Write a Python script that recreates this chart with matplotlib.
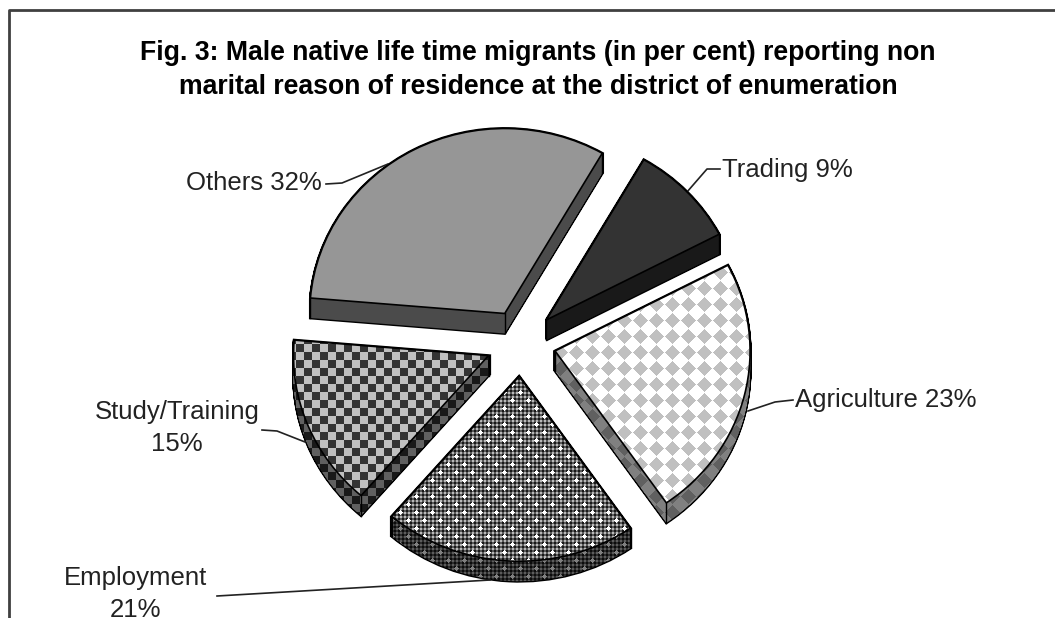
import numpy as np
from matplotlib import pyplot as plt
from matplotlib.path import Path
from matplotlib.patches import PathPatch
from matplotlib.transforms import Affine2D

W, H = 1055, 618
CX, CY = 521, 343
RX, RY = 195, 185
DEPTH = 20

names = ["Trading", "Agriculture", "Employment", "Study/Training", "Others"]
values = [9, 23, 21, 15, 32]
labels = ["Trading 9%", "Agriculture 23%", "Employment\n21%", "Study/Training\n15%", "Others 32%"]
title = "Fig. 3: Male native life time migrants (in per cent) reporting non\nmarital reason of residence at the district of enumeration"


def px(x, y):
    # picture pixels to pie units
    return (x - CX) / RX, (CY - y) / RY


def makePattern(name):
    yy, xx = np.mgrid[0:H, 0:W]
    img = np.ones((H, W))
    if name == "Trading":
        img[:] = 0x33 / 255
    elif name == "Others":
        img[:] = 0x96 / 255
    elif name == "Agriculture":
        a = np.abs((xx + 8) % 16 - 8) + np.abs((yy + 8) % 16 - 8)
        img[a <= 7] = 0xc0 / 255
    elif name == "Study/Training":
        img[:] = 0xc0 / 255
        img[((xx // 8) + (yy // 8)) % 2 == 0] = 0x33 / 255
    elif name == "Employment":
        img[:] = 0.35
        img[(xx % 4 < 2) & (yy % 4 < 2)] = 0.72
        img[((xx + 2) % 4 < 2) & ((yy + 2) % 4 < 2)] = 0.1
        for ox, oy in [(0, 0), (8, 8)]:
            dots = (np.abs((xx - ox + 8) % 16 - 8) + np.abs((yy - oy + 8) % 16 - 8)) <= 2
            img[dots] = 1
    return img


fig = plt.figure(figsize=(W / 100, H / 100), dpi=100)
ax = fig.add_axes([0, 0, 1, 1])

wedges = ax.pie(values, explode=[0.18] * 5, startangle=60, counterclock=False, frame=True,
                wedgeprops=dict(facecolor="none", edgecolor="black", linewidth=1.2, zorder=6))[0]

x0, y0 = px(0, 0)
x1, y1 = px(W, H)
extent = [x0, x1, y1, y0]
dy = DEPTH / RY

for name, w in zip(names, wedges):
    img = makePattern(name)
    base = w.get_patch_transform().transform_path(w.get_path())
    # side of the slice, the same outline pushed down step by step
    steps = [base.transformed(Affine2D().translate(0, -dy * i / DEPTH)) for i in range(DEPTH + 1)]
    side = PathPatch(Path.make_compound_path(*steps), fc="none", ec="black", lw=2, zorder=0.5,
                     transform=ax.transData)
    ax.add_patch(side)
    im = ax.imshow(img * 0.5, cmap="gray", vmin=0, vmax=1, extent=extent, aspect="auto",
                   interpolation="nearest", zorder=1)
    im.set_clip_path(side)
    cx, cy = w.center
    t1, t2 = np.radians([w.theta1, w.theta2])
    for vx, vy in [(cx, cy), (cx + np.cos(t1), cy + np.sin(t1)), (cx + np.cos(t2), cy + np.sin(t2))]:
        ax.plot([vx, vx], [vy, vy - dy], color="black", lw=1.0, zorder=2)
    top = ax.imshow(img, cmap="gray", vmin=0, vmax=1, extent=extent, aspect="auto",
                    interpolation="nearest", zorder=3)
    top.set_clip_path(w)

# leader lines
leaders = [
    [(687, 192), (707, 169), (720, 169)],
    [(748, 411), (775, 402), (793, 400)],
    [(217, 596), (490, 580)],
    [(262, 430), (277, 431), (305, 442)],
    [(326, 184), (342, 183), (388, 164)],
]
for line in leaders:
    pts = np.array([px(*p) for p in line])
    ax.plot(pts[:, 0], pts[:, 1], color="#222222", lw=1.2, zorder=5)

label_pos = [(722, 170, "left"), (795, 400, "left"), (136, 594, "center"), (177, 428, "center"), (254, 183, "center")]
for lab, (lx, ly, ha) in zip(labels, label_pos):
    tx, ty = px(lx, ly)
    ax.text(tx, ty, lab, ha=ha, va="center", ma="center", fontsize=18.5, family="Liberation Sans",
            color="#222222", linespacing=1.39, zorder=7)

tx, ty = px(538, 70)
ax.text(tx, ty, title, ha="center", va="center", ma="center", fontsize=19.2, fontweight="bold",
        family="Liberation Sans", color="black", linespacing=1.42, zorder=7)

# chart frame, cut by the picture at the bottom and the right
frame = np.array([px(*p) for p in [(9, 640), (9, 10), (1070, 10)]])
ax.plot(frame[:, 0], frame[:, 1], color="#404040", lw=2, zorder=7)

ax.set_xlim(x0, x1)
ax.set_ylim(y1, y0)
ax.axis("off")
fig.savefig("out.png", dpi=100)
